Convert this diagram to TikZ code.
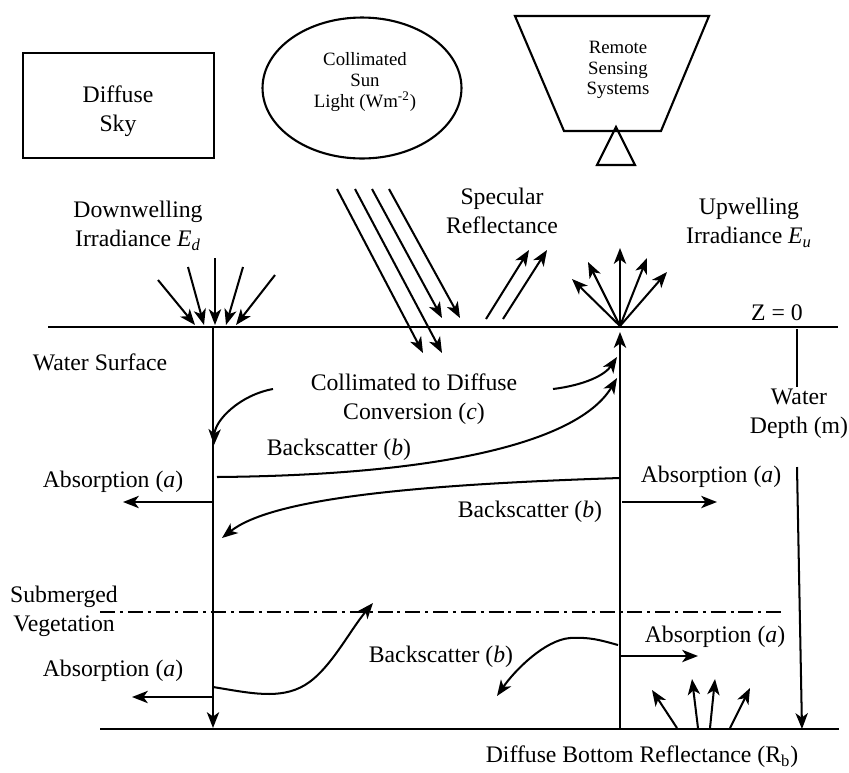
\documentclass[tikz,border=0pt]{standalone}
\usepackage{fontspec}
\setmainfont{Liberation Serif}
\usetikzlibrary{arrows.meta,shapes.geometric}

\tikzset{
  lbl/.style={font=\fontsize{13.5}{16.5}\selectfont, align=center, inner sep=0pt},
  tiny/.style={font=\fontsize{10.7}{11.8}\selectfont, align=center, inner sep=0pt},
  ray/.style={line width=1.15pt, -{Stealth[length=9pt,width=7pt,inset=2.5pt]}},
  bar/.style={line width=1.2pt},
  dashdot/.style={line width=1.2pt, dash pattern=on 8.5pt off 2.8pt on 1.7pt off 2.8pt},
}

\begin{document}
\begin{tikzpicture}[x=0.02cm, y=-0.02cm]
\useasboundingbox (0,0) rectangle (849,772);

% ----------------------------------------------------
% 1. Sources and sensor
% ----------------------------------------------------
\node (sky) [bar, draw, minimum width=3.82cm, minimum height=2.1cm] at (118.5,105.5) {};
\node (skyTxt) [lbl] at (118,111) {Diffuse\\Sky};
\node (sun) [bar, draw, ellipse, minimum width=3.98cm, minimum height=2.82cm] at (362,88) {};
\node (sunTxt) [tiny] at (365,82) {Collimated\\Sun\\Light (Wm\textsuperscript{-2})};

\draw[bar] (515,16) -- (709,16) -- (661,131) -- (564,131) -- cycle;
\node (rss) [tiny] at (618,70) {Remote\\Sensing\\Systems};
\draw[bar] (616,127) -- (635,165) -- (597,165) -- cycle;

% ----------------------------------------------------
% 2. Above the surface
% ----------------------------------------------------
\node (dwLbl) [lbl] at (138,226) {Downwelling\\Irradiance \textit{E}\textsubscript{\textit{d}}};
\node (specLbl) [lbl] at (502,211) {Specular\\Reflectance};
\node (upLbl) [lbl] at (749,223) {Upwelling\\Irradiance \textit{E}\textsubscript{\textit{u}}};
\node (zLbl) [lbl] at (777,313) {Z = 0};

\coordinate (surfL) at (48,327);
\coordinate (surfR) at (838,327);
\draw[bar] (surfL) -- (surfR);

% downwelling rays
\foreach \i/\sx/\sy/\ex in {1/158/280/195, 2/188/267/204, 3/215/258/215, 4/243/267/226, 5/275/275/236}{
  \coordinate (dw\i) at (\sx,\sy);
  \coordinate (dwE\i) at (\ex,325);
  \draw[ray] (dw\i) -- (dwE\i);
}

% collimated sun rays
\foreach \i/\sx/\ex/\ey in {1/337/423/353, 2/355/442/353, 3/372/442/318, 4/389/460/318}{
  \coordinate (sr\i) at (\sx,189);
  \coordinate (srE\i) at (\ex,\ey);
  \draw[ray] (sr\i) -- (srE\i);
}

% specular rays
\foreach \i/\sx/\ex in {1/486/529, 2/503/547}{
  \coordinate (sp\i) at (\sx,319);
  \coordinate (spE\i) at (\ex,250);
  \draw[ray] (sp\i) -- (spE\i);
}

% upwelling rays
\coordinate (upO) at (620,326);
\foreach \i/\ex/\ey in {1/572/279, 2/588/262, 3/620/248, 4/647/258, 5/667/272}{
  \coordinate (upE\i) at (\ex,\ey);
  \draw[ray] (upO) -- (upE\i);
}

% ----------------------------------------------------
% 3. Water column
% ----------------------------------------------------
\node (surfLbl) [lbl] at (100,362) {Water Surface};
\node (convLbl) [lbl] at (414,399) {Collimated to Diffuse\\Conversion (\textit{c})};
\node (bsA) [lbl] at (339,450) {Backscatter (\textit{b})};
\node (bsB) [lbl] at (530,512) {Backscatter (\textit{b})};
\node (absA) [lbl] at (113,482) {Absorption (\textit{a})};
\node (absB) [lbl] at (711,477) {Absorption (\textit{a})};
\node (depthLbl) [lbl] at (799,414) {Water\\Depth (m)};

\coordinate (colLT) at (213,327);
\coordinate (colLB) at (213,728);
\coordinate (colRT) at (620,332);
\coordinate (colRB) at (620,729);
\draw[ray] (colLT) -- (colLB);
\draw[ray] (colRB) -- (colRT);

% conversion to diffuse
\draw[ray] (273,389) .. controls (240,395) and (215,420) .. (214,445);
\draw[ray] (553,389) .. controls (585,385) and (605,375) .. (617,357);

% backscatter between the columns
\draw[ray] (217,477) .. controls (450,475) and (580,440) .. (617,378);
\draw[ray] (620,478) .. controls (400,485) and (270,500) .. (222,538);

% absorption
\coordinate (absAe) at (123,502);
\coordinate (absBe) at (717,502);
\draw[ray] (213,502) -- (absAe);
\draw[ray] (622,502) -- (absBe);

% water depth
\coordinate (depT) at (797,329);
\coordinate (depM) at (797,387);
\coordinate (depN) at (797,467);
\coordinate (depB) at (802,729);
\draw[bar] (depT) -- (depM);
\draw[ray] (depN) -- (depB);

% ----------------------------------------------------
% 4. Submerged vegetation and bottom
% ----------------------------------------------------
\node (vegLbl) [lbl] at (64,611) {Submerged\\Vegetation};
\node (absC) [lbl] at (113,671) {Absorption (\textit{a})};
\node (absD) [lbl] at (715,637) {Absorption (\textit{a})};
\node (bsC) [lbl] at (441,657) {Backscatter (\textit{b})};
\node (botLbl) [lbl] at (642,757) {Diffuse Bottom Reflectance (R\textsubscript{b})};

\coordinate (vegL) at (100,612);
\coordinate (vegR) at (782,612);
\draw[dashdot] (vegL) -- (vegR);

\coordinate (botL) at (100,729);
\coordinate (botR) at (839,729);
\draw[bar] (botL) -- (botR);

\coordinate (absCe) at (132,697);
\coordinate (absDe) at (698,656);
\draw[ray] (213,697) -- (absCe);
\draw[ray] (620,656) -- (absDe);

\draw[ray] (213,687) .. controls (250,693) and (280,700) .. (305,685)
  .. controls (330,670) and (350,630) .. (373,603);
\draw[ray] (618,645) .. controls (600,640) and (590,637) .. (570,638)
  .. controls (545,640) and (515,670) .. (497,696);

% bottom reflectance
\foreach \i/\sx/\ex/\ey in {1/677/652/690, 2/698/692/679, 3/710/715/679, 4/730/750/688}{
  \coordinate (br\i) at (\sx,728);
  \coordinate (brE\i) at (\ex,\ey);
  \draw[ray] (br\i) -- (brE\i);
}

\end{tikzpicture}
\end{document}
